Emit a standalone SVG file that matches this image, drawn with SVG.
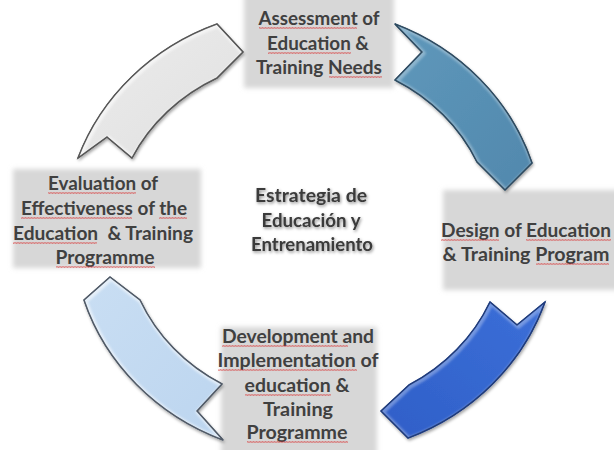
<svg xmlns="http://www.w3.org/2000/svg" width="614" height="450" viewBox="0 0 614 450">
<defs>
<style>
.lbl{font-family:Lato,"Open Sans","Liberation Sans",sans-serif;font-weight:bold;font-size:19px;fill:#404040;text-anchor:middle}
.ctr{font-family:Lato,"Open Sans","Liberation Sans",sans-serif;font-weight:bold;font-size:19px;fill:#3a3a3a;text-anchor:middle}
.box{fill:#d7d7d7}
.arr{stroke-width:1.5;stroke-linejoin:round}
.hl{fill:none;stroke:#ffffff;stroke-opacity:0.55;stroke-width:5;stroke-linejoin:round}
.sq{fill:url(#squig)}
</style>
<filter id="soft" x="-10%" y="-10%" width="120%" height="120%">
<feGaussianBlur stdDeviation="2.5"/>
</filter>
<filter id="shadow" x="-10%" y="-10%" width="125%" height="125%">
<feDropShadow dx="1" dy="2" stdDeviation="1.5" flood-color="#000" flood-opacity="0.35"/>
</filter>
<filter id="hblur"><feGaussianBlur stdDeviation="1"/></filter>
<filter id="tshadow" x="-10%" y="-20%" width="120%" height="150%">
<feDropShadow dx="1" dy="1.5" stdDeviation="1.4" flood-color="#000" flood-opacity="0.45"/>
</filter>
<pattern id="squig" width="3" height="2" patternUnits="userSpaceOnUse">
<path d="M0 1.8 L0.75 0.3 L1.5 1.8 L2.25 0.3 L3 1.8" fill="none" stroke="#d83a3a" stroke-width="0.6" stroke-opacity="0.85"/>
</pattern>
<linearGradient id="gGray" x1="0" y1="0" x2="1" y2="1">
<stop offset="0" stop-color="#ececec"/><stop offset="1" stop-color="#e0e0e0"/>
</linearGradient>
<linearGradient id="gTeal" x1="0" y1="0" x2="1" y2="1">
<stop offset="0" stop-color="#5f98bb"/><stop offset="1" stop-color="#5188ad"/>
</linearGradient>
<linearGradient id="gBlue" x1="1" y1="0" x2="0" y2="1">
<stop offset="0" stop-color="#3c6fd8"/><stop offset="1" stop-color="#2f5fc8"/>
</linearGradient>
<linearGradient id="gLight" x1="0" y1="0" x2="1" y2="1">
<stop offset="0" stop-color="#c9def3"/><stop offset="1" stop-color="#bcd5ef"/>
</linearGradient>
<path id="pA" d="M78 158 A238 224 0 0 1 217 24 L243 52 L217 78 A190 177 0 0 0 132 158 L107 137 Z"/>
<path id="pB" d="M395 24 A238 224 0 0 1 532 163 L505 190 L477 162 A190 177 0 0 0 395 80 L422 52 Z"/>
<path id="pC" d="M545 302 A238 224 0 0 1 408 438 L381 411 L409 385 A190 177 0 0 0 490 302 L517 325 Z"/>
<path id="pD" d="M223 440 A238 224 0 0 1 84 300 L110 277 L140 300 A190 177 0 0 0 222 384 L197 411 Z"/>
<clipPath id="cA"><use href="#pA"/></clipPath>
<clipPath id="cB"><use href="#pB"/></clipPath>
<clipPath id="cC"><use href="#pC"/></clipPath>
<clipPath id="cD"><use href="#pD"/></clipPath>
</defs>

<g id="boxes" filter="url(#soft)">
<rect class="box" x="244" y="-6" width="150" height="94"/>
<rect class="box" x="13" y="169" width="188" height="99"/>
<rect class="box" x="443" y="190" width="180" height="100"/>
<rect class="box" x="221" y="327" width="156" height="130"/>
</g>

<g id="connectors">
<g id="arrow-assess">
<use href="#pA" class="arr" filter="url(#shadow)" fill="url(#gGray)" stroke="#5a5a5a"/>
<g clip-path="url(#cA)"><use href="#pA" class="hl" filter="url(#hblur)" transform="translate(1.2 1.2)"/></g>
<use href="#pA" fill="none" stroke="#555" stroke-width="1.2"/>
</g>
<g id="arrow-design">
<use href="#pB" class="arr" filter="url(#shadow)" fill="url(#gTeal)" stroke="#2f5068"/>
<g clip-path="url(#cB)"><use href="#pB" class="hl" style="stroke-opacity:0.3" filter="url(#hblur)" transform="translate(1.2 1.2)"/></g>
<use href="#pB" fill="none" stroke="#2d4a60" stroke-width="1.2"/>
</g>
<g id="arrow-develop">
<use href="#pC" class="arr" filter="url(#shadow)" fill="url(#gBlue)" stroke="#1f3f86"/>
<g clip-path="url(#cC)"><use href="#pC" class="hl" style="stroke-opacity:0.3" filter="url(#hblur)" transform="translate(1.2 1.2)"/></g>
<use href="#pC" fill="none" stroke="#1e3a7a" stroke-width="1.2"/>
</g>
<g id="arrow-eval">
<use href="#pD" class="arr" filter="url(#shadow)" fill="url(#gLight)" stroke="#55606e"/>
<g clip-path="url(#cD)"><use href="#pD" class="hl" filter="url(#hblur)" transform="translate(1.2 1.2)"/></g>
<use href="#pD" fill="none" stroke="#4f5966" stroke-width="1.2"/>
</g>
</g>

<g id="node-assessment">
<text class="lbl" x="319" y="25" textLength="121" lengthAdjust="spacingAndGlyphs">Assessment of</text>
<text class="lbl" x="318" y="50" textLength="102" lengthAdjust="spacingAndGlyphs">Education &amp;</text>
<text class="lbl" x="319" y="74" textLength="126" lengthAdjust="spacingAndGlyphs">Training Needs</text>
<rect class="sq" x="259" y="27" width="98" height="2"/>
<rect class="sq" x="268" y="52" width="83" height="2"/>
<rect class="sq" x="329" y="76" width="53" height="2"/>
</g>

<g id="node-design">
<text class="lbl" x="526" y="237" textLength="170" lengthAdjust="spacingAndGlyphs">Design of Education</text>
<text class="lbl" x="526" y="261" textLength="167" lengthAdjust="spacingAndGlyphs">&amp; Training Program</text>
<rect class="sq" x="441" y="239" width="58" height="2"/>
<rect class="sq" x="526" y="239" width="85" height="2"/>
<rect class="sq" x="536" y="263" width="73" height="2"/>
</g>

<g id="node-development">
<text class="lbl" x="298" y="343" textLength="152" lengthAdjust="spacingAndGlyphs">Development and</text>
<text class="lbl" x="298" y="367" textLength="161" lengthAdjust="spacingAndGlyphs">Implementation of</text>
<text class="lbl" x="297" y="392" textLength="105" lengthAdjust="spacingAndGlyphs">education &amp;</text>
<text class="lbl" x="298" y="416" textLength="70" lengthAdjust="spacingAndGlyphs">Training</text>
<text class="lbl" x="297" y="439" textLength="101" lengthAdjust="spacingAndGlyphs">Programme</text>
<rect class="sq" x="222" y="345" width="126" height="2"/>
<rect class="sq" x="218" y="369" width="139" height="2"/>
<rect class="sq" x="245" y="394" width="86" height="2"/>
<rect class="sq" x="247" y="441" width="101" height="2"/>
</g>

<g id="node-evaluation">
<text class="lbl" x="103" y="190" textLength="110" lengthAdjust="spacingAndGlyphs">Evaluation of</text>
<text class="lbl" x="104" y="215" textLength="166" lengthAdjust="spacingAndGlyphs">Effectiveness of the</text>
<text class="lbl" x="103" y="240" textLength="180" lengthAdjust="spacingAndGlyphs" xml:space="preserve">Education  &amp; Training</text>
<text class="lbl" x="105" y="264" textLength="99" lengthAdjust="spacingAndGlyphs">Programme</text>
<rect class="sq" x="48" y="192" width="88" height="2"/>
<rect class="sq" x="21" y="217" width="111" height="2"/>
<rect class="sq" x="159" y="217" width="28" height="2"/>
<rect class="sq" x="13" y="242" width="84" height="2"/>
<rect class="sq" x="56" y="266" width="99" height="2"/>
</g>

<g id="node-center" filter="url(#tshadow)">
<text class="ctr" x="311" y="202" textLength="112" lengthAdjust="spacingAndGlyphs">Estrategia de</text>
<text class="ctr" x="311" y="227" textLength="99" lengthAdjust="spacingAndGlyphs">Educación y</text>
<text class="ctr" x="312" y="251" textLength="122" lengthAdjust="spacingAndGlyphs">Entrenamiento</text>
</g>
</svg>
